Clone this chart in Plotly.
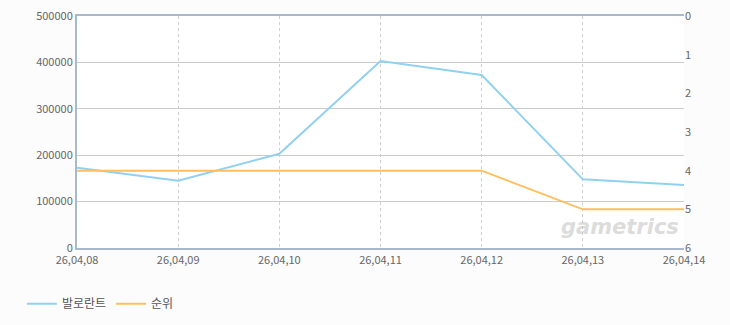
import plotly.graph_objects as go

dates = ["26,04,08", "26,04,09", "26,04,10", "26,04,11", "26,04,12", "26,04,13", "26,04,14"]
valorant = [173000, 145000, 203000, 403000, 373000, 148000, 136000]
rank = [4, 4, 4, 4, 4, 5, 5]

font_family = "Noto Sans CJK KR, DejaVu Sans, sans-serif"

fig = go.Figure()
fig.add_trace(go.Scatter(x=dates, y=valorant, name="발로란트", mode="lines",
                         line=dict(color="#92d0f0", width=2), yaxis="y"))
fig.add_trace(go.Scatter(x=dates, y=rank, name="순위", mode="lines",
                         line=dict(color="#ffbf5e", width=2), yaxis="y2"))

fig.add_annotation(text="<b><i>gametrics</i></b>", xref="paper", yref="paper",
                   x=0.995, y=0.03, xanchor="right", yanchor="bottom", showarrow=False,
                   font=dict(size=21, color="rgba(190,190,190,0.55)", family="DejaVu Sans"))

fig.update_layout(
    width=730, height=325,
    margin=dict(l=77, r=46, t=16, b=77, autoexpand=False),
    paper_bgcolor="#fcfcfc",
    plot_bgcolor="#ffffff",
    font=dict(family=font_family, size=11, color="#666666"),
    showlegend=True,
    legend=dict(orientation="h", x=0.03, xref="container", y=0.11, yref="container",
                xanchor="left", yanchor="top", itemwidth=30,
                font=dict(size=12, color="#555555"), bgcolor="rgba(0,0,0,0)"),
    xaxis=dict(type="category", range=[0, 6], showgrid=True, gridcolor="#cfcfcf",
               griddash="3px,3px", gridwidth=1, showline=True, linecolor="#a9b9cc", linewidth=2,
               mirror=True, ticks="", tickfont=dict(size=11, color="#666666"), zeroline=False,
               ticklabelstandoff=1),
    yaxis=dict(range=[0, 500000], dtick=100000, showgrid=True, gridcolor="#cccccc",
               showline=True, linecolor="#a9b9cc", linewidth=2, ticks="", zeroline=False,
               tickformat="d", tickfont=dict(size=11, color="#666666")),
    yaxis2=dict(overlaying="y", side="right", range=[6, 0], dtick=1, showgrid=False,
                ticks="", zeroline=False, showline=False,
                tickfont=dict(size=11, color="#666666")),
)

fig.write_html("out.html")
